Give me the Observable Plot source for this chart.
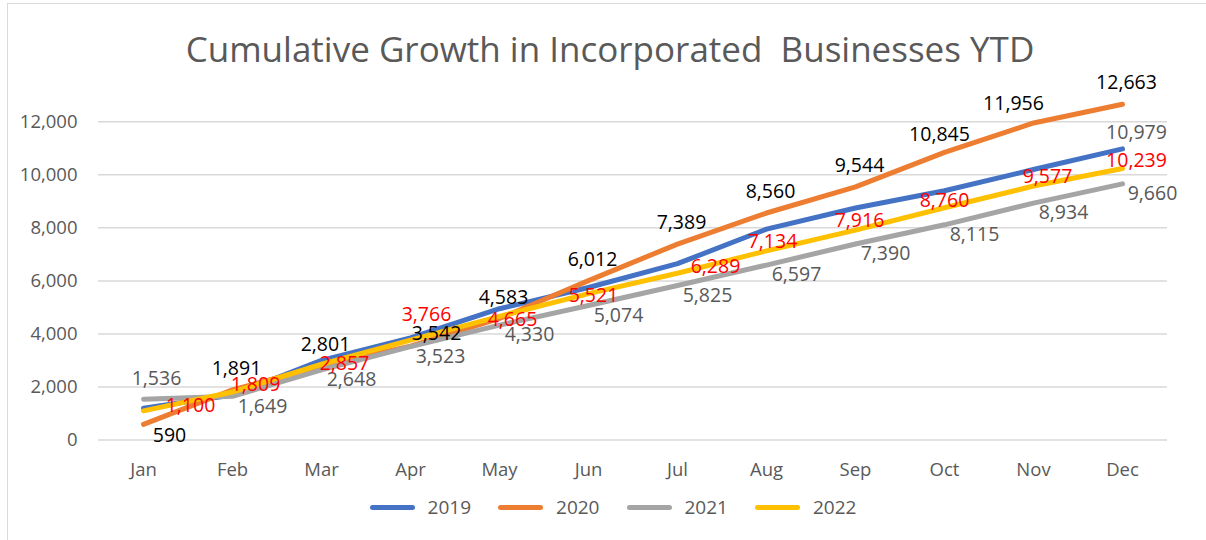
<!DOCTYPE html>
<html>
<head>
<meta charset="utf-8">
<script src="https://cdn.jsdelivr.net/npm/d3@7"></script>
<script src="https://cdn.jsdelivr.net/npm/@observablehq/plot@0.6"></script>
<style>
  html, body { margin: 0; padding: 0; background: #fff; overflow: hidden; }
  body { width: 1206px; height: 540px; position: relative; font-family: "Open Sans", "Noto Sans", sans-serif; }
  #frame { position: absolute; left: 7px; top: 3px; width: 1400px; height: 700px; border: 1px solid #d9d9d9; }
  #title { position: absolute; left: 0; top: 25px; width: 1220px; text-align: center; font-size: 35px; color: #595959; white-space: pre; }
  #chart { position: absolute; left: 0; top: 60px; }
  #legend { position: absolute; left: 0; top: 494px; width: 1226px; display: flex; justify-content: center; gap: 27px; font-size: 19px; color: #595959; }
  .item { display: flex; align-items: center; gap: 13px; }
  .sw { width: 45px; height: 5px; border-radius: 3px; }
</style>
</head>
<body>
<div id="frame"></div>
<div id="title"></div>
<div id="chart"></div>
<div id="legend"></div>
<script>
// ---- data ----
const titleText = "Cumulative Growth in Incorporated  Businesses YTD";
const months = ["Jan","Feb","Mar","Apr","May","Jun","Jul","Aug","Sep","Oct","Nov","Dec"];
const seriesNames = ["2019","2020","2021","2022"];
const v2019 = [1200, 1700, 3000, 3850, 4950, 5750, 6650, 7950, 8750, 9400, 10200, 10979];
const v2020 = [590, 1891, 2801, 3542, 4583, 6012, 7389, 8560, 9544, 10845, 11956, 12663];
const v2021 = [1536, 1649, 2648, 3523, 4330, 5074, 5825, 6597, 7390, 8115, 8934, 9660];
const v2022 = [1100, 1809, 2857, 3766, 4665, 5521, 6289, 7134, 7916, 8760, 9577, 10239];
const labelled2019 = ["Dec"]; // only the last 2019 point carries a label
const yTicks = [0, 2000, 4000, 6000, 8000, 10000, 12000];

// ---- styling ----
const colors = {"2019": "#4472C4", "2020": "#ED7D31", "2021": "#A5A5A5", "2022": "#FFC000"};
const labelColors = {"2019": "#595959", "2020": "#000000", "2021": "#595959", "2022": "#FF0000"};

const valuesBySeries = {"2019": v2019, "2020": v2020, "2021": v2021, "2022": v2022};
const rows = seriesNames.flatMap(s => months.map((m, i) => ({series: s, month: m, value: valuesBySeries[s][i]})));

// label offsets (layout only)
function offset(s, i) {
  if (s === "2020") { if (i === 0) return [26, 11]; if (i === 10) return [-20, -19]; if (i === 9) return [-5, -18]; if (i === 3) return [26, -12]; return [4, -21]; }
  if (s === "2021") { if (i === 0) return [13, -21]; return [30, 10]; }
  if (s === "2022") {
    const o = [[47,-5],[23,-7],[23,0],[16,-25],[13,3],[5,2],[38,-6],[6,-9],[4,-9],[0,-7],[14,-9],[14,-8]];
    return o[i];
  }
  return [14, -16];
}

const fmt = d3.format(",");
const labelMarks = [];
for (const s of seriesNames) {
  rows.filter(r => r.series === s).forEach((r, i) => {
    if (s === "2019" && !labelled2019.includes(r.month)) return;
    const [dx, dy] = offset(s, i);
    labelMarks.push(Plot.text([r], {x: "month", y: "value", text: d => fmt(d.value), dx, dy,
      fill: labelColors[s], fontSize: 19.5, textAnchor: "middle", lineAnchor: "middle"}));
  });
}

const H = 430;
const plot = Plot.plot({
  width: 1206,
  height: H,
  marginLeft: 98,
  marginRight: 39,
  marginTop: 61.3,
  marginBottom: H - 379.5,
  style: {fontFamily: "'Open Sans', 'Noto Sans', sans-serif", fontSize: "18.5px", color: "#595959", background: "transparent"},
  x: {type: "point", domain: months, padding: 0.5, label: null, tickSize: 0, tickPadding: 23},
  y: {domain: [0, 12000], ticks: yTicks, tickFormat: fmt, label: null, tickSize: 0, tickPadding: 21},
  marks: [
    Plot.gridY(yTicks, {stroke: "#d9d9d9", strokeOpacity: 1, strokeWidth: 1.5}),
    ...seriesNames.map(s => Plot.line(rows.filter(r => r.series === s), {
      x: "month", y: "value", stroke: colors[s], strokeWidth: 5, strokeLinecap: "round", strokeLinejoin: "round"})),
    ...labelMarks
  ]
});
document.getElementById("chart").appendChild(plot);
document.getElementById("title").textContent = titleText;

const legend = document.getElementById("legend");
for (const s of seriesNames) {
  const it = document.createElement("div");
  it.className = "item";
  const sw = document.createElement("div");
  sw.className = "sw";
  sw.style.background = colors[s];
  const t = document.createElement("span");
  t.textContent = s;
  it.appendChild(sw); it.appendChild(t);
  legend.appendChild(it);
}
</script>
</body>
</html>
